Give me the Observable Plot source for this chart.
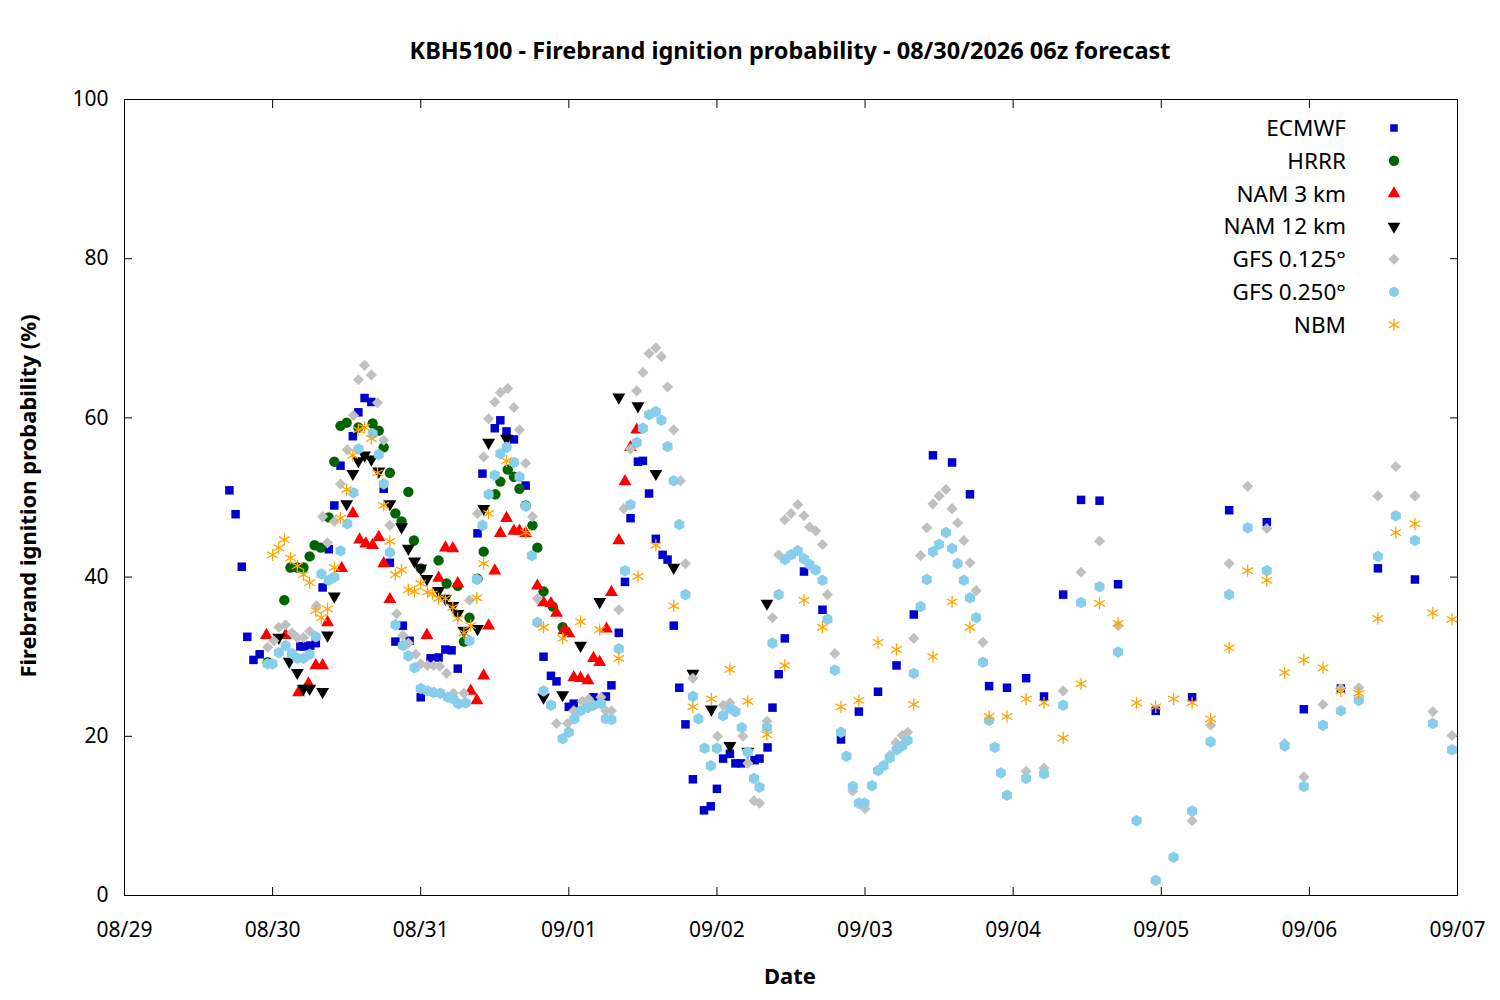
<!DOCTYPE html>
<html><head><meta charset="utf-8">
<script src="https://cdn.jsdelivr.net/npm/d3@7"></script>
<script src="https://cdn.jsdelivr.net/npm/@observablehq/plot@0.6"></script>
<style>
body{margin:0;background:#fff;font-family:"Noto Sans",sans-serif;}
#wrap{position:relative;width:1500px;height:1000px;}
#title{height:75px;line-height:100px;text-align:center;font-weight:bold;font-size:23.5px;padding-left:80px;box-sizing:border-box}
#legend{position:absolute;left:0;top:0}
</style></head><body>
<div id="wrap"><div id="title">KBH5100 - Firebrand ignition probability - 08/30/2026 06z forecast</div><div id="chart"></div><svg id="legend" width="1500" height="400"></svg></div>
<script>
const base = Date.UTC(2026,7,29,0);
const ecmwfH=[17,18,19,19.9,20.9,21.9,28.5,29,30.1,31,32.1,33.1,34,35,37,37.9,38.9,40,42,43,43.9,45.1,46.2,48,49.6,50.9,52,53,54,57.2,58,60,60.9,61.9,63.1,65,67.9,69.1,70,72,72.8,76,78,78.9,80.1,81.1,82,83.2,84,85,86.1,87.2,88,89,89.9,90.9,92.1,93.9,95,96,97,98.1,99,99.9,102.1,102.9,104.2,105,106,107,110.1,113.1,116.1,119,122.1,125.1,127.9,131,134.1,137,140.1,143,146.1,149,152.1,155,158,161,167.1,173,179,185.1,191.1,197.1,203.1,209.1];
const ecmwfV=[50.9,47.9,41.3,32.5,29.6,30.3,31.3,31.3,31.4,31.7,38.7,43.5,49,54,57.7,60.7,62.5,62,51.1,41.8,31.9,33.9,32,24.9,29.8,29.9,30.9,30.8,28.5,45.5,53,58.7,59.7,58.3,57.3,51.5,30,27.6,26.9,23.7,24.1,24.9,25,26.4,33,39.4,47.4,54.5,54.6,50.5,44.8,42.8,42.2,33.9,26.1,21.5,14.6,10.7,11.2,13.4,17.2,17.8,16.6,16.6,17,17.2,18.6,23.6,27.8,32.3,40.7,35.9,19.6,23.1,25.6,28.9,35.3,55.3,54.4,50.4,26.3,26.1,27.3,25,37.8,49.7,49.6,39.1,23.2,24.9,48.4,46.9,23.4,26,41.1,39.7];
const hrrrH=[23.2,25.9,26.9,28,29,30,30.8,31.8,33.1,34,35,36,37.9,40.2,41.2,42,43,43.9,44.9,46,46.9,48,50.9,52.2,54,55,55.9,57.2,58.2,60.1,60.9,62.1,63.1,64,65,66.1,66.9,67.9,69.4,71];
const hrrrV=[29.3,37.1,41.2,41.2,41.2,42.6,44,43.7,47.5,54.5,59,59.4,58.8,59.3,58.4,56.3,53.1,48,47,50.7,44.6,41.1,42.1,39.2,38.9,31.9,34.9,39.8,43.2,50.4,52,53.5,52.6,51.1,49,46.5,43.7,38.2,36.3,33.7];
const nam3H=[23,26.1,28.2,29.8,31,32.1,32.9,35.2,37,38.1,39.1,40.2,41.2,42,43,49,50.9,52,53.2,54,56.1,57.1,58.2,59,60,60.9,61.9,63.1,64,65,66.9,67.9,69.1,70,71.2,72,72.8,73.9,75.1,76,77,78.1,78.9,80.1,81.1,82,83];
const nam3V=[32.7,32.7,25.5,26.6,28.9,28.9,34.3,41.1,48,44.7,44.2,44,45,41.7,37.2,32.7,39.9,43.7,43.6,39.2,25.7,24.5,27.6,33.9,40.8,45.5,47.4,45.8,45.8,45.5,38.9,36.8,36.7,35.5,33.3,32.9,27.4,27.3,27,29.8,29.3,33.5,38.1,44.6,52,56.3,58.5];
const nam12H=[25,26.7,28,29,30,32.1,32.9,34,36,37,37.9,38.9,40,41.2,43,44.9,46,47,48,49,50.9,52,53.2,54,55,57.2,58.2,59,61.9,67.9,71,73.9,77,80.1,83.2,86.1,89,92.1,95.1,98.1,101,104.1];
const nam12V=[32.4,29.4,28,26,26,25.6,32.7,37.6,49.2,53,54.6,55.3,54.8,53.3,49.2,46.3,43.6,42,41.1,39.8,38.3,37.3,36.4,35.4,33.3,33.5,48.6,56.9,57.4,24.9,25.2,31.4,36.9,62.6,61.5,53,41.2,27.9,23.4,18.8,18.1,36.7];
const gfs125H=[23.2,24.2,25,26.1,27.1,28,29,30,31.1,32.1,32.9,34,35,36.1,37.1,37.9,38.9,40,41,42,43,44.1,45.1,46,47.2,48,49.1,50.1,51.1,52.2,53.3,55,55.9,57.2,58.2,59,60,60.9,62.1,63.1,64,65,66.1,66.9,70,71.8,72.8,74.2,75.2,77.2,78,78.9,80.1,80.9,82,83,84,85,86.1,87,88,89,90.1,90.9,92.1,96.1,97,98.1,100.2,101,102,102.9,104.1,105,106,107,108,109.1,110.1,111,112,113.1,113.9,115.1,118,119,120,124,125,126,126.9,127.9,129,130,131,132,133.1,134.1,135,136,137,138,139.1,140.1,146.1,149,152.1,155,158,161,164,167.1,170,173,176,179,182,185.1,188,191.1,194.2,197.1,200,203.1,206,209.1,212,215.1];
const gfs125V=[31.2,32,33.7,34,33,32.4,32.4,33.2,36.4,47.6,44.3,47,51.7,56,60.3,64.8,66.6,65.4,61.9,57.2,46.5,35.4,32.7,31.7,30.3,29.1,28.9,28.9,28.8,27.9,25.4,25.4,37.1,48,55.1,59.9,62,63.2,63.7,61.3,58.5,54.3,47.6,37.3,21.6,21.6,23.2,24.4,24.7,24.9,23.2,23.2,35.9,48.6,56.1,63.4,65.7,68.1,68.8,67.7,63.9,58.5,52.1,41.7,27.3,20,23.9,24.2,20,16.6,11.9,11.6,21.9,34.9,42.8,47.2,48,49.1,47.7,46.3,45.8,44.1,37.8,30.4,13.1,11.6,10.9,17.6,19.2,20.1,20.5,32.3,42.7,46.2,49.2,50.2,51,48.6,46.8,44.6,41.8,38.3,31.8,22,15.6,16,25.7,40.6,44.5,33.9,9.4,1.9,4.8,9.4,21.4,41.7,51.4,46.1,19.1,14.9,24,26,26.1,50.2,53.9,50.2,23.1,20.1];
const gfs250H=[23.2,24,25,26.1,27.1,28,29,30,31,31.9,33.1,34,35,36.1,37.1,37.9,40.2,41.2,42,43,43.9,45.1,46,47,48,49.1,50.1,51.2,52.4,53.3,54.1,55.3,55.9,57.1,58,59,60,60.9,61.9,63.1,64,65,66,66.9,67.9,69.1,71,72,72.9,73.9,75.1,76,77.2,78,78.9,80.1,81.1,82,83,84,85,86.1,87,88,89,89.9,90.9,92.1,93,94,95,96,97,98.1,99,100,101,102,102.9,104.1,105,106,107,108,109.1,110.1,111,112,113.1,113.9,115.1,116.1,117,118,119,119.9,121.1,122.1,123,124,125.1,126,126.9,127.9,129,130,131,132,133.1,134.1,135,136,137,138,139.1,140.1,141,142,143,146.1,149,152.1,155,158,161,164,167.1,170,173,176,179,182,185.1,188,191.1,194.2,197.1,200,203.1,206,209.1,212,215.1];
const gfs250V=[29.1,29.1,30.5,31.4,30.4,29.8,29.8,30.3,32.5,40.4,39.6,40,43.3,46.7,50.6,56.1,58,55.4,51.7,43.1,34,31.4,30.1,28.6,26,25.7,25.5,25.4,24.9,24.7,24.1,24.2,32,39.7,46.5,50.4,52.8,55.5,56.3,54.4,52.6,48.9,42.7,34.3,25.7,23.9,19.7,20.5,22.2,23.2,23.6,23.9,24.1,22.2,22.1,31,40.8,49.1,56.9,58.7,60.4,60.8,59.7,56.4,52.1,46.6,37.8,25,22.2,18.5,16.3,18.5,22.6,23.5,23.1,21.1,18,14.7,13.6,21.1,31.7,37.8,42.2,42.8,43.3,42.3,41.6,40.9,39.6,34.7,28.3,20.5,17.5,13.7,11.6,11.6,13.8,15.7,16.3,17.3,18.3,18.8,19.5,27.9,36.3,39.7,43.2,44.1,45.6,43.6,41.7,39.6,37.4,34.9,29.3,22,18.6,15.4,12.6,14.7,15.3,23.9,36.8,38.8,30.6,9.4,1.9,4.8,10.6,19.3,37.8,46.2,40.8,18.8,13.7,21.4,23.2,24.5,42.6,47.7,44.6,21.6,18.3];
const nbmH=[24,25,25.9,26.9,28,29,30,31,31.9,32.9,34,35,36,37,37.9,38.9,40,41,42,43,43.9,44.9,46,47,48,49.1,49.9,50.9,52,53.2,54,55,56.1,57.1,58.2,59,61.9,65,67.9,71,73.9,77,80.1,83.2,86.1,89,92.1,95.1,98.1,101,104.1,107,110.1,113.1,116.1,119,122.1,125.1,127.9,131,134.1,137,140.1,143,146.1,149,152.1,155,158,161,164,167.1,170,173,176,179,182,185.1,188,191.1,194.2,197.1,200,203.1,206,209.1,212,215.1];
const nbmV=[42.8,43.7,44.7,42.4,41.4,40.3,39.3,35.8,34.9,36,41.2,47.4,51,55.3,58.5,58.8,57.4,53.1,49,44.5,40.3,40.9,38.4,38.2,39.2,38.1,37.9,37.3,37.3,36.2,34.8,33,33.9,37.4,41.7,48,54.6,45.6,33.7,32.3,34.4,33.4,29.8,40.1,44,36.4,23.7,24.7,28.4,24.4,20.2,28.9,37.1,33.7,23.7,24.5,31.8,30.9,24,30,36.9,33.7,22.5,22.5,24.7,24.2,19.8,26.6,36.7,34.2,24.2,23.7,24.7,24.2,22.2,31.1,40.8,39.6,28,29.6,28.6,25.7,25.4,34.8,45.6,46.7,35.5,34.7];
const seriesNames=["ECMWF","HRRR","NAM 3 km","NAM 12 km","GFS 0.125°","GFS 0.250°","NBM"];
const xTicks=["08/29","08/30","08/31","09/01","09/02","09/03","09/04","09/05","09/06","09/07"];

const toRows=(H,V)=>H.map((h,i)=>({t:new Date(base+h*3600e3),v:V[i]}));
const styles=[
 {rows:toRows(ecmwfH,ecmwfV),symbol:"square",fill:"#0000cc",r:4.8},
 {rows:toRows(hrrrH,hrrrV),symbol:"circle",fill:"#006400",r:5.2},
 {rows:toRows(nam3H,nam3V),symbol:"triangle",fill:"#ff0000",r:4.8},
 {rows:toRows(nam12H,nam12V),symbol:"triangle",fill:"#000000",r:4.8,rotate:180},
 {rows:toRows(gfs125H,gfs125V),symbol:"diamond2",fill:"#c0c0c0",r:5},
 {rows:toRows(gfs250H,gfs250V),symbol:"hexagon",fill:"#87ceeb",r:5},
 {rows:toRows(nbmH,nbmV),symbol:"asterisk",stroke:"#ffa500",r:5.8}
];
const tickDates=xTicks.map((_,i)=>new Date(base+i*86400e3));
const fmt=d => xTicks[Math.round((d-base)/86400e3)];
const marks=[Plot.frame({stroke:"#000"}),
 Plot.axisX({ticks:tickDates,tickFormat:fmt,tickSize:-8,tickPadding:35,fontSize:21,label:null}),
 Plot.axisX({anchor:"top",ticks:tickDates,tickFormat:()=>"",tickSize:-8,label:null}),
 Plot.axisY({ticks:[0,20,40,60,80,100],tickSize:-8,tickPadding:24,fontSize:21,label:null}),
 Plot.axisY({anchor:"right",ticks:[0,20,40,60,80,100],tickFormat:()=>"",tickSize:-8,label:null})
];
for(const s of styles){
 const o={x:"t",y:"v",symbol:()=>s.symbol,r:s.r};
 if(s.stroke){o.stroke=s.stroke;o.strokeWidth=1.3;o.fill="none";} else {o.fill=s.fill;}
 if(s.rotate) o.rotate=s.rotate;
 marks.push(Plot.dot(s.rows,o));
}
const chart=Plot.plot({width:1500,height:925,marginTop:24,marginBottom:105,marginLeft:124,marginRight:43,
 style:{fontFamily:"Noto Sans",background:"#fff"},
 x:{type:"utc",domain:[new Date(base),new Date(base+9*86400e3)]},
 y:{domain:[0,100]},
 symbol:{type:"identity"},
 marks});
document.getElementById("chart").appendChild(chart);
const svg=d3.select(chart);
svg.append("text").attr("x",790).attr("y",909).attr("text-anchor","middle").attr("font-weight","bold").attr("font-size",22).text("Date");
svg.append("text").attr("transform","translate(36,421) rotate(-90)").attr("text-anchor","middle").attr("font-weight","bold").attr("font-size",22).text("Firebrand ignition probability (%)");
const lg=d3.select("#legend");
styles.forEach((s,i)=>{
 const y=128+i*32.8;
 lg.append("text").attr("x",1346).attr("y",y+8).attr("text-anchor","end").attr("font-size",22.5).attr("font-family","Noto Sans").text(seriesNames[i]);
 const sym={square:d3.symbolSquare2,circle:d3.symbolCircle,triangle:d3.symbolTriangle2,diamond2:d3.symbolSquare2,hexagon:d3.symbolCircle,asterisk:d3.symbolAsterisk}[s.symbol];
 const area=Math.PI*s.r*s.r*(s.symbol==="triangle"?1.6:1);
 let tr=`translate(1394,${y})`;
 if(s.rotate) tr+=" rotate(180)";
 if(s.symbol==="diamond2") tr+=" rotate(45)";
 lg.append("path").attr("d",d3.symbol(sym,area)()).attr("transform",tr)
  .attr("fill",s.stroke?"none":s.fill).attr("stroke",s.stroke||"none").attr("stroke-width",1.3);
});
</script></body></html>
